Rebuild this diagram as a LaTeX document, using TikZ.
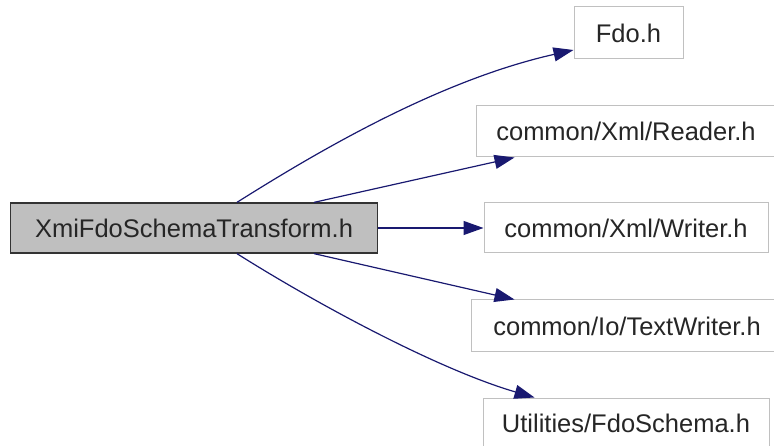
\documentclass[tikz,border=0pt]{standalone}
\usepackage{fontspec}
\setmainfont{Liberation Sans}
\usetikzlibrary{arrows.meta,calc}
\definecolor{edgec}{HTML}{191970}
\definecolor{mainfill}{HTML}{BFBFBF}
\definecolor{boxline}{HTML}{C0C0C0}
\begin{document}
\begin{tikzpicture}[x=1pt,y=1pt,
  filebox/.style={draw=boxline, line width=1pt, fill=white, inner sep=0pt,
    font=\fontsize{25.5}{30}\selectfont, text=black!85},
  mainbox/.style={draw=black!80, line width=1.2pt, fill=mainfill, inner sep=0pt,
    font=\fontsize{25.5}{30}\selectfont, text=black!85},
  dep/.style={draw=edgec, line width=1.2pt, -{Triangle[length=20pt,width=14pt]}}]
\useasboundingbox (0,0) rectangle (774,-446);
\node[mainbox, minimum width=367pt, minimum height=50pt] (main) at (194,-228) {XmiFdoSchemaTransform.h};
\node[filebox, minimum width=109pt, minimum height=52pt] (fdo) at (628.5,-33) {Fdo.h};
\node[filebox, minimum width=300pt, minimum height=51pt] (reader) at (626,-131.5) {common/Xml/Reader.h};
\node[filebox, minimum width=284pt, minimum height=50pt] (writer) at (626,-228) {common/Xml/Writer.h};
\node[filebox, minimum width=312pt, minimum height=52pt] (text) at (627,-326) {common/Io/TextWriter.h};
\node[filebox, minimum width=286pt, minimum height=50pt] (schema) at (626,-423) {Utilities/FdoSchema.h};
\coordinate (s1) at ($(main.north west)+(227,0)$);
\coordinate (s2) at ($(main.north west)+(304,0)$);
\coordinate (s4) at ($(main.south west)+(304,0)$);
\coordinate (s5) at ($(main.south west)+(227,0)$);
\coordinate (e1) at ($(fdo.west)+(0,-17)$);
\coordinate (e2) at ($(reader.south west)+(39,0)$);
\coordinate (e4) at ($(text.north west)+(44,0)$);
\coordinate (e5) at ($(schema.north west)+(52,0)$);
\draw[dep] (s1) .. controls (320,-150) and (440,-80) .. (e1);
\draw[dep] (s2) -- (e2);
\draw[dep] (main.east) -- (writer.west);
\draw[dep] (s4) -- (e4);
\draw[dep] (s5) .. controls (320,-306) and (440,-370) .. (e5);
\end{tikzpicture}
\end{document}
